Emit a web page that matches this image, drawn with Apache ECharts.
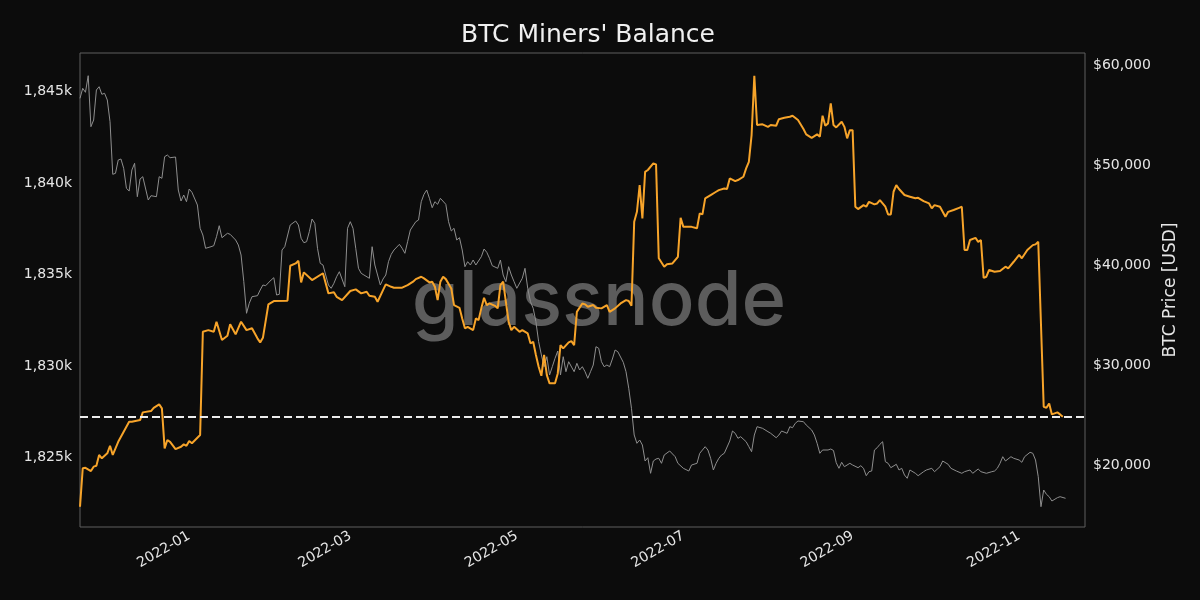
<!DOCTYPE html>
<html>
<head>
<meta charset="utf-8">
<script src="https://cdn.jsdelivr.net/npm/echarts@6/dist/echarts.min.js"></script>
<style>
html,body{margin:0;padding:0;background:#0c0c0c;}
#chart{width:1200px;height:600px;}
</style>
</head>
<body>
<div id="chart"></div>
<script>
const balanceDates = ['2021-11-22','2021-11-23','2021-11-24','2021-11-26','2021-11-27','2021-11-28','2021-11-29','2021-11-30','2021-12-02','2021-12-03','2021-12-04','2021-12-06','2021-12-08','2021-12-10','2021-12-11','2021-12-14','2021-12-15','2021-12-18','2021-12-19','2021-12-21','2021-12-22','2021-12-23','2021-12-24','2021-12-25','2021-12-27','2021-12-29','2021-12-30','2021-12-31','2022-01-01','2022-01-02','2022-01-04','2022-01-05','2022-01-06','2022-01-08','2022-01-10','2022-01-11','2022-01-13','2022-01-15','2022-01-16','2022-01-18','2022-01-20','2022-01-22','2022-01-24','2022-01-26','2022-01-27','2022-01-28','2022-01-30','2022-02-01','2022-02-06','2022-02-07','2022-02-09','2022-02-10','2022-02-11','2022-02-12','2022-02-15','2022-02-19','2022-02-21','2022-02-23','2022-02-24','2022-02-26','2022-03-01','2022-03-03','2022-03-05','2022-03-07','2022-03-08','2022-03-10','2022-03-11','2022-03-13','2022-03-14','2022-03-16','2022-03-17','2022-03-20','2022-03-22','2022-03-24','2022-03-25','2022-03-27','2022-03-28','2022-03-30','2022-03-31','2022-04-01','2022-04-02','2022-04-03','2022-04-04','2022-04-05','2022-04-07','2022-04-08','2022-04-10','2022-04-11','2022-04-12','2022-04-13','2022-04-15','2022-04-16','2022-04-17','2022-04-18','2022-04-19','2022-04-20','2022-04-21','2022-04-23','2022-04-24','2022-04-25','2022-04-26','2022-04-27','2022-04-28','2022-04-29','2022-04-30','2022-05-02','2022-05-03','2022-05-05','2022-05-06','2022-05-07','2022-05-08','2022-05-09','2022-05-10','2022-05-11','2022-05-12','2022-05-13','2022-05-15','2022-05-16','2022-05-17','2022-05-18','2022-05-20','2022-05-21','2022-05-22','2022-05-23','2022-05-25','2022-05-26','2022-05-27','2022-05-29','2022-05-30','2022-06-01','2022-06-03','2022-06-04','2022-06-06','2022-06-08','2022-06-10','2022-06-11','2022-06-12','2022-06-13','2022-06-14','2022-06-15','2022-06-16','2022-06-17','2022-06-18','2022-06-20','2022-06-21','2022-06-22','2022-06-24','2022-06-25','2022-06-27','2022-06-29','2022-06-30','2022-07-01','2022-07-04','2022-07-06','2022-07-07','2022-07-08','2022-07-09','2022-07-11','2022-07-13','2022-07-14','2022-07-16','2022-07-17','2022-07-18','2022-07-20','2022-07-21','2022-07-23','2022-07-24','2022-07-25','2022-07-26','2022-07-27','2022-07-28','2022-07-30','2022-08-01','2022-08-02','2022-08-04','2022-08-05','2022-08-07','2022-08-09','2022-08-10','2022-08-12','2022-08-14','2022-08-15','2022-08-17','2022-08-19','2022-08-20','2022-08-21','2022-08-22','2022-08-23','2022-08-24','2022-08-25','2022-08-26','2022-08-28','2022-08-29','2022-08-30','2022-08-31','2022-09-01','2022-09-02','2022-09-03','2022-09-05','2022-09-06','2022-09-07','2022-09-09','2022-09-10','2022-09-11','2022-09-13','2022-09-14','2022-09-15','2022-09-16','2022-09-17','2022-09-18','2022-09-20','2022-09-22','2022-09-24','2022-09-25','2022-09-27','2022-09-29','2022-09-30','2022-10-01','2022-10-03','2022-10-05','2022-10-06','2022-10-08','2022-10-10','2022-10-11','2022-10-12','2022-10-13','2022-10-14','2022-10-16','2022-10-17','2022-10-18','2022-10-19','2022-10-20','2022-10-21','2022-10-23','2022-10-25','2022-10-27','2022-10-28','2022-10-30','2022-11-01','2022-11-02','2022-11-04','2022-11-06','2022-11-07','2022-11-08','2022-11-10','2022-11-11','2022-11-12','2022-11-13','2022-11-15','2022-11-16','2022-11-17'];
const balanceValues = [1822300,1824400,1824430,1824250,1824490,1824540,1825130,1824950,1825220,1825630,1825130,1825850,1826400,1826950,1826950,1827040,1827460,1827530,1827710,1827900,1827680,1825490,1825950,1825850,1825450,1825580,1825710,1825630,1825890,1825770,1826070,1826220,1831870,1831960,1831870,1832420,1831420,1831650,1832280,1831730,1832420,1831960,1832060,1831510,1831290,1831540,1833370,1833550,1833570,1835480,1835610,1835750,1834570,1835120,1834700,1835070,1833970,1834030,1833780,1833600,1834100,1834190,1833970,1834060,1833840,1833780,1833510,1834150,1834460,1834330,1834280,1834280,1834420,1834610,1834750,1834880,1834790,1834570,1834610,1834330,1833600,1834610,1834880,1834750,1834240,1833330,1833180,1832600,1832060,1832140,1831960,1832600,1832510,1833150,1833730,1833330,1833420,1833290,1833150,1834420,1834610,1833510,1832420,1831960,1832140,1831870,1831960,1831780,1831240,1831320,1830600,1829960,1829460,1830600,1829500,1829050,1829050,1829590,1831140,1830960,1831290,1831360,1831140,1832960,1833420,1833370,1833240,1833330,1833180,1833150,1833330,1832960,1833150,1833420,1833600,1833550,1833290,1837890,1838430,1839890,1838070,1840620,1840720,1841080,1841030,1835890,1835430,1835560,1835610,1835970,1838110,1837610,1837610,1837530,1838350,1838290,1839170,1839350,1839530,1839620,1839710,1839680,1840260,1840110,1840170,1840350,1840810,1841170,1842630,1845870,1843180,1843220,1843080,1843180,1843140,1843500,1843580,1843630,1843690,1843450,1842960,1842670,1842480,1842670,1842540,1843690,1843140,1843270,1844360,1843180,1843050,1843360,1843080,1842450,1842900,1842900,1838710,1838580,1838800,1838710,1838980,1838840,1838890,1839070,1838710,1838290,1838290,1839530,1839890,1839680,1839350,1839260,1839170,1839200,1839020,1838890,1838620,1838800,1838710,1838160,1838430,1838530,1838650,1838710,1836340,1836340,1836890,1837010,1836790,1836890,1834820,1834880,1835250,1835150,1835190,1835430,1835340,1835700,1836070,1835890,1836340,1836610,1836650,1836790,1827770,1827710,1827950,1827350,1827460,1827350,1827220];

const priceDates = ['2021-11-22','2021-11-23','2021-11-24','2021-11-25','2021-11-26','2021-11-27','2021-11-28','2021-11-29','2021-11-30','2021-12-01','2021-12-02','2021-12-03','2021-12-04','2021-12-05','2021-12-06','2021-12-07','2021-12-08','2021-12-09','2021-12-10','2021-12-11','2021-12-12','2021-12-13','2021-12-14','2021-12-15','2021-12-17','2021-12-18','2021-12-20','2021-12-21','2021-12-22','2021-12-23','2021-12-24','2021-12-25','2021-12-27','2021-12-28','2021-12-29','2021-12-30','2021-12-31','2022-01-01','2022-01-02','2022-01-04','2022-01-05','2022-01-06','2022-01-07','2022-01-09','2022-01-10','2022-01-11','2022-01-12','2022-01-13','2022-01-15','2022-01-16','2022-01-18','2022-01-19','2022-01-20','2022-01-21','2022-01-22','2022-01-23','2022-01-24','2022-01-26','2022-01-27','2022-01-28','2022-01-29','2022-01-31','2022-02-01','2022-02-02','2022-02-03','2022-02-04','2022-02-05','2022-02-07','2022-02-09','2022-02-10','2022-02-11','2022-02-12','2022-02-13','2022-02-14','2022-02-15','2022-02-16','2022-02-17','2022-02-18','2022-02-19','2022-02-21','2022-02-22','2022-02-23','2022-02-24','2022-02-25','2022-02-27','2022-02-28','2022-03-01','2022-03-02','2022-03-03','2022-03-04','2022-03-05','2022-03-06','2022-03-08','2022-03-09','2022-03-10','2022-03-11','2022-03-12','2022-03-13','2022-03-14','2022-03-15','2022-03-16','2022-03-17','2022-03-19','2022-03-20','2022-03-21','2022-03-22','2022-03-23','2022-03-25','2022-03-26','2022-03-27','2022-03-28','2022-03-29','2022-03-30','2022-03-31','2022-04-01','2022-04-02','2022-04-03','2022-04-05','2022-04-06','2022-04-07','2022-04-08','2022-04-09','2022-04-10','2022-04-11','2022-04-12','2022-04-13','2022-04-14','2022-04-15','2022-04-16','2022-04-18','2022-04-19','2022-04-20','2022-04-21','2022-04-22','2022-04-24','2022-04-25','2022-04-26','2022-04-27','2022-04-28','2022-04-29','2022-04-30','2022-05-01','2022-05-03','2022-05-04','2022-05-05','2022-05-06','2022-05-07','2022-05-08','2022-05-09','2022-05-10','2022-05-11','2022-05-12','2022-05-13','2022-05-14','2022-05-15','2022-05-16','2022-05-17','2022-05-18','2022-05-19','2022-05-20','2022-05-22','2022-05-23','2022-05-24','2022-05-25','2022-05-26','2022-05-27','2022-05-28','2022-05-29','2022-05-30','2022-05-31','2022-06-01','2022-06-02','2022-06-03','2022-06-04','2022-06-05','2022-06-06','2022-06-07','2022-06-09','2022-06-10','2022-06-11','2022-06-12','2022-06-13','2022-06-14','2022-06-15','2022-06-16','2022-06-17','2022-06-18','2022-06-19','2022-06-20','2022-06-21','2022-06-22','2022-06-23','2022-06-24','2022-06-26','2022-06-28','2022-06-29','2022-07-01','2022-07-03','2022-07-04','2022-07-06','2022-07-07','2022-07-09','2022-07-10','2022-07-11','2022-07-12','2022-07-13','2022-07-14','2022-07-15','2022-07-16','2022-07-18','2022-07-19','2022-07-20','2022-07-21','2022-07-22','2022-07-24','2022-07-25','2022-07-26','2022-07-27','2022-07-28','2022-07-30','2022-08-01','2022-08-02','2022-08-04','2022-08-05','2022-08-06','2022-08-08','2022-08-09','2022-08-10','2022-08-11','2022-08-12','2022-08-14','2022-08-15','2022-08-17','2022-08-18','2022-08-19','2022-08-20','2022-08-21','2022-08-23','2022-08-24','2022-08-25','2022-08-26','2022-08-27','2022-08-28','2022-08-29','2022-08-31','2022-09-01','2022-09-03','2022-09-04','2022-09-05','2022-09-06','2022-09-07','2022-09-08','2022-09-09','2022-09-10','2022-09-11','2022-09-12','2022-09-13','2022-09-14','2022-09-15','2022-09-17','2022-09-18','2022-09-19','2022-09-20','2022-09-21','2022-09-22','2022-09-24','2022-09-25','2022-09-27','2022-09-28','2022-09-30','2022-10-01','2022-10-03','2022-10-04','2022-10-06','2022-10-07','2022-10-09','2022-10-11','2022-10-12','2022-10-14','2022-10-15','2022-10-17','2022-10-18','2022-10-20','2022-10-22','2022-10-23','2022-10-24','2022-10-25','2022-10-26','2022-10-27','2022-10-29','2022-10-30','2022-11-01','2022-11-02','2022-11-03','2022-11-05','2022-11-06','2022-11-07','2022-11-08','2022-11-09','2022-11-10','2022-11-11','2022-11-12','2022-11-13','2022-11-15','2022-11-16','2022-11-18'];
const priceValues = [56740,57740,57340,59000,53900,54570,57570,57900,57140,57240,56570,54400,49140,49240,50570,50670,49740,47740,47470,49570,50240,46900,48670,48900,46570,47000,46900,48900,48740,50900,51070,50800,50870,47570,46470,47070,46400,47670,47340,46070,43740,43070,41740,41900,42000,42900,44000,42800,43240,43140,42570,42070,41070,38400,35240,36240,36900,37000,37570,38070,38000,38570,38800,37070,37140,41570,41900,44070,44470,44070,42740,42300,42400,43400,44670,44240,41740,40240,40070,38070,37740,38240,38900,39400,37900,43740,44400,43740,41740,39740,39240,39070,38740,41900,40070,39070,38070,38670,39070,40400,41140,41570,42140,41740,41240,42400,43570,44400,44570,46400,47140,47570,46740,45800,46400,46140,46740,46140,44400,43470,43740,42570,42800,41570,39900,40400,40070,40570,40070,40900,41670,41340,40740,40000,39740,40570,39070,38400,39900,39070,38400,37740,38740,39740,37740,36400,35740,34400,32400,31070,29900,30900,29070,29900,30740,31470,29070,30900,29400,30400,29400,30240,29570,29900,29400,28740,29400,30070,31900,31740,30400,29900,30070,29900,30670,31570,31400,30340,29400,27740,25740,23070,22240,22570,22070,20470,20800,19240,20470,20670,20740,20240,21070,21470,20900,20240,19740,19470,20070,20240,21240,21900,21570,20740,19570,20240,20740,21070,21240,22470,23470,23240,22740,22900,22400,21900,21400,23070,23900,23740,23400,23240,22800,23070,23470,23240,23900,23800,24240,24470,24400,24070,23570,23070,22240,21240,21570,21570,21670,21520,20300,19740,20340,19900,20240,20070,19800,20000,19740,19000,19400,19470,21570,21800,22140,22400,20400,20240,19800,20140,19570,19740,19070,18740,19570,19240,19000,19400,19570,19740,19400,19900,20470,20140,19740,19470,19240,19400,19570,19240,19670,19400,19240,19400,19470,19740,20240,20900,20470,20900,20740,20570,20340,20900,21340,21240,20570,18900,15900,17570,17140,16900,16470,16800,16900,16740];

const currentBalance = 1827220;
const xTickLabels = ['2022-01','2022-03','2022-05','2022-07','2022-09','2022-11'];
const leftTicks = [1825000,1830000,1835000,1840000,1845000];
const rightTicks = [20000,30000,40000,50000,60000];
const xRange = ['2021-11-22', '2022-11-25'];

const FONT = 'DejaVu Sans';
const comma = n => String(Math.round(n)).replace(/\B(?=(\d{3})+(?!\d))/g, ',');
const ts = s => { const p = s.split('-'); return Date.UTC(+p[0], +p[1] - 1, p[2] ? +p[2] : 1); };
const xTickValues = xTickLabels.map(ts);
const fmtMonth = v => { const d = new Date(v); return d.getUTCFullYear() + '-' + String(d.getUTCMonth() + 1).padStart(2, '0'); };

const chart = echarts.init(document.getElementById('chart'), null, {renderer: 'canvas'});
chart.setOption({
  animation: false,
  backgroundColor: '#0c0c0c',
  title: {
    text: "BTC Miners' Balance",
    left: 583, top: 18, textAlign: 'center',
    textStyle: {color: '#f0f0f0', fontFamily: FONT, fontSize: 25, fontWeight: 'normal'}
  },
  graphic: [{
    type: 'text', x: 599, y: 302, z: -10, silent: true,
    style: {text: 'glassnode', fill: '#5c5c5c', fontFamily: 'Inter', fontWeight: 500, fontSize: 76, align: 'center', verticalAlign: 'middle'}
  }],
  grid: {left: 80, right: 115, top: 53, bottom: 73, show: true, borderColor: '#5e5e5e', borderWidth: 1, backgroundColor: 'transparent'},
  xAxis: {
    type: 'value',
    min: ts(xRange[0]),
    max: ts(xRange[1]) + 3 * 3600 * 1000,
    axisLine: {show: false},
    axisTick: {show: false},
    splitLine: {show: false},
    axisLabel: {
      customValues: xTickValues,
      rotate: 30, margin: 8,
      color: '#e6e6e6', fontFamily: FONT, fontSize: 14,
      formatter: fmtMonth
    }
  },
  yAxis: [{
    type: 'value', position: 'left',
    min: 1821190, max: 1847120,
    axisLine: {show: false}, axisTick: {show: false}, splitLine: {show: false},
    axisLabel: {customValues: leftTicks, color: '#e6e6e6', fontFamily: FONT, fontSize: 14, margin: 8,
      formatter: v => comma(v / 1000) + 'k'}
  }, {
    type: 'value', position: 'right',
    min: 13870, max: 61270,
    name: 'BTC Price [USD]', nameLocation: 'middle', nameRotate: 90, nameGap: 74,
    nameTextStyle: {color: '#e6e6e6', fontFamily: FONT, fontSize: 17},
    axisLine: {show: false}, axisTick: {show: false}, splitLine: {show: false},
    axisLabel: {customValues: rightTicks, color: '#e6e6e6', fontFamily: FONT, fontSize: 14, margin: 8,
      formatter: v => '$' + comma(v)}
  }],
  series: [{
    name: 'BTC Price', type: 'line', yAxisIndex: 1, z: 2,
    showSymbol: false, symbol: 'none',
    lineStyle: {color: '#8e8e8e', width: 1},
    data: priceDates.map((d, i) => [ts(d), priceValues[i]])
  }, {
    name: "Miners' Balance", type: 'line', yAxisIndex: 0, z: 3,
    showSymbol: false, symbol: 'none',
    lineStyle: {color: '#f7a42a', width: 2},
    data: balanceDates.map((d, i) => [ts(d), balanceValues[i]]),
    markLine: {
      silent: true, symbol: 'none', label: {show: false},
      lineStyle: {color: '#ececec', width: 2, type: [8, 4]},
      data: [{yAxis: currentBalance}]
    }
  }]
});
</script>
</body>
</html>
